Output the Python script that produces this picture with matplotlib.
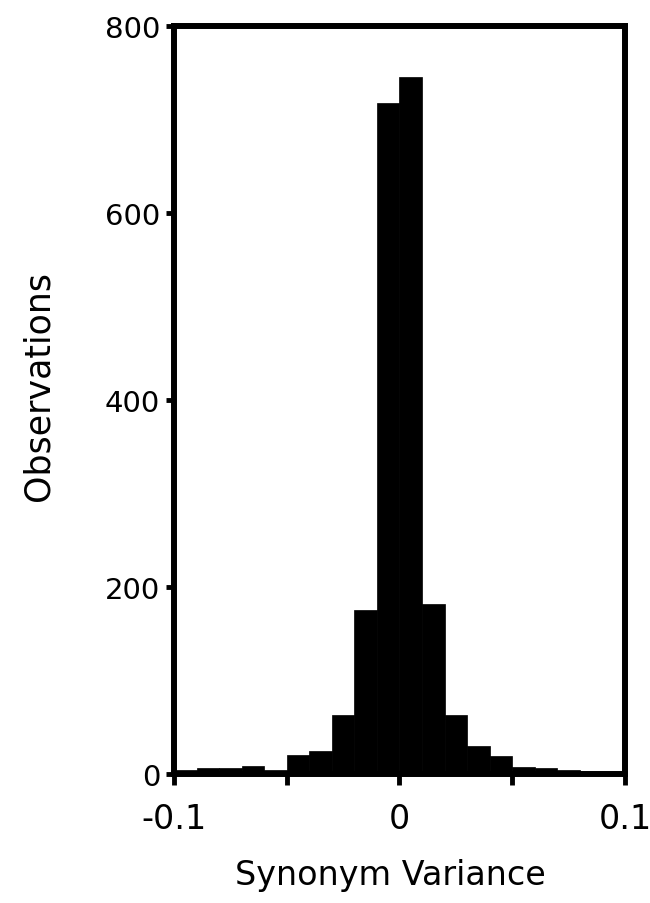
import matplotlib
matplotlib.use("Agg")
import matplotlib.pyplot as plt
import numpy as np

# Histogram bins (left edges) and counts
bin_left = [-0.10, -0.09, -0.08, -0.07, -0.06, -0.05, -0.04, -0.03, -0.02, -0.01,
            0.00, 0.01, 0.02, 0.03, 0.04, 0.05, 0.06, 0.07, 0.08, 0.09]
counts = [4, 6, 6, 9, 4, 20, 25, 63, 175, 718,
          745, 182, 63, 30, 19, 7, 6, 4, 2, 2]
bin_width = 0.01

x_ticks = [-0.1, 0, 0.1]
x_ticklabels = ["-0.1", "0", "0.1"]
x_minor = [-0.05, 0.05]
y_ticks = [0, 200, 400, 600, 800]
y_ticklabels = ["0", "200", "400", "600", "800"]

fig = plt.figure(figsize=(6.5, 9.04), dpi=100)
ax = fig.add_axes([0.2677, 0.1427, 0.9615 - 0.2677, 0.9701 - 0.1427])

ax.bar(bin_left, counts, width=bin_width, align="edge", color="black",
       edgecolor="black", linewidth=0.5, zorder=2)

ax.set_xlim(-0.1, 0.1)
ax.set_ylim(0, 800)

for s in ax.spines.values():
    s.set_linewidth(4.3)
    s.set_zorder(3)

ax.set_xticks(x_ticks)
ax.set_xticklabels(x_ticklabels, fontsize=24, family="DejaVu Sans")
ax.set_xticks(x_minor, minor=True)
ax.set_yticks(y_ticks)
ax.set_yticklabels(y_ticklabels, fontsize=21, family="DejaVu Sans")

ax.tick_params(axis="x", which="both", direction="out", length=8, width=3.5, pad=12)
ax.tick_params(axis="y", which="both", direction="out", length=6, width=3.5, pad=4)

ax.set_xlabel("Synonym Variance", fontsize=24)
ax.set_ylabel("Observations", fontsize=25)
ax.xaxis.set_label_coords(0.479, -0.112)
ax.yaxis.set_label_coords(-0.262, 0.52)

fig.savefig("out.png", dpi=100, facecolor="white")
